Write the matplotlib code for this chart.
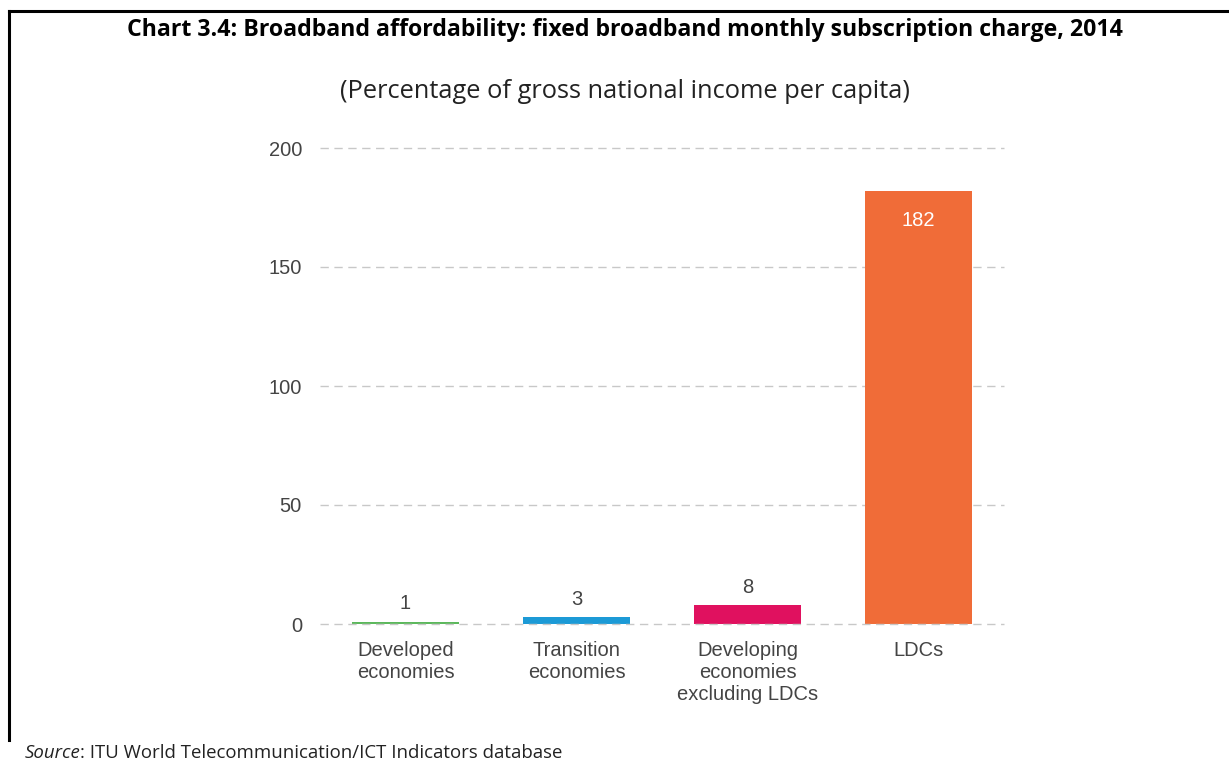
import matplotlib
matplotlib.use("Agg")
import matplotlib.pyplot as plt
from matplotlib.lines import Line2D

categories = ["Developed\neconomies", "Transition\neconomies",
              "Developing\neconomies\nexcluding LDCs", "LDCs"]
values = [1, 3, 8, 182]
colors = ["#5cb85c", "#1c9ad6", "#e0115f", "#f06c38"]
yticks = [0, 50, 100, 150, 200]

title = "Chart 3.4: Broadband affordability: fixed broadband monthly subscription charge, 2014"
subtitle = "(Percentage of gross national income per capita)"
source_label = "Source"
source_text = ": ITU World Telecommunication/ICT Indicators database"

W, H = 1229, 765
fig = plt.figure(figsize=(W / 100, H / 100), dpi=100)
fig.patch.set_facecolor("white")

# frame lines (top and left)
fig.add_artist(Line2D([8.5 / W, 1.0], [1 - 10.5 / H, 1 - 10.5 / H], color="black", lw=2.2))
fig.add_artist(Line2D([8.5 / W, 8.5 / W], [1 - 10.5 / H, 1 - 740 / H], color="black", lw=2.2))

ax = fig.add_axes([320 / W, 1 - 624 / H, 684 / W, 476 / H])
x = list(range(len(categories)))
ax.bar(x, values, width=0.625, color=colors, zorder=2)
ax.set_xlim(-0.5, 3.5)
ax.set_ylim(0, 200)
ax.set_yticks(yticks)
ax.set_xticks(x)
ax.set_xticklabels(categories, fontsize=14.5, color="#444444", family="Liberation Sans",
                   linespacing=1.2)
ax.set_yticklabels([str(v) for v in yticks], fontsize=14.5, color="#444444",
                   family="Liberation Sans")
ax.tick_params(axis="both", length=0)
ax.tick_params(axis="x", pad=12)
ax.tick_params(axis="y", pad=13)
for s in ax.spines.values():
    s.set_visible(False)
for v in yticks:
    ax.axhline(v, color="#c8c8c8", lw=1, ls=(0, (6, 4)), zorder=3 if v == 0 else 1,
               clip_on=False)

for xi, v in zip(x, values):
    if v > 50:
        ax.text(xi, v - 12.5, str(v), ha="center", va="center", fontsize=14.5,
                color="white", family="Liberation Sans")
    else:
        ax.text(xi, v + 3.5, str(v), ha="center", va="bottom", fontsize=14.5,
                color="#444444", family="Liberation Sans")

fig.text(625 / W, 1 - 30 / H, title, ha="center", va="center", fontsize=16.7,
         fontweight="bold", family="Open Sans", color="black")
fig.text(625 / W, 1 - 91 / H, subtitle, ha="center", va="center", fontsize=18.3,
         family="Open Sans", color="#222222")

src = fig.text(25 / W, 1 - 753 / H, source_label, ha="left", va="center", fontsize=13.4,
               style="italic", family="Open Sans", color="#222222")
fig.canvas.draw()
bb = src.get_window_extent()
fig.text((bb.x1 - 1) / W, 1 - 753 / H, source_text,
         ha="left", va="center", fontsize=13.4, family="Open Sans", color="#222222")

fig.savefig("out.png", dpi=100, facecolor="white")
